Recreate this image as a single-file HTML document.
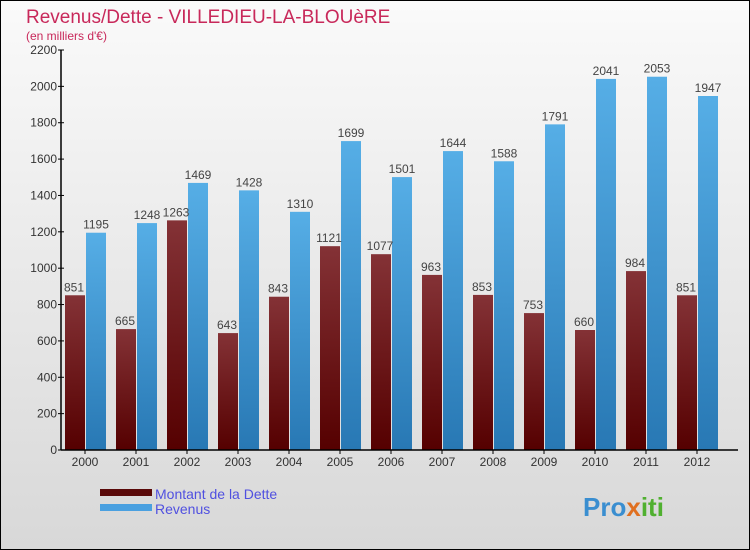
<!DOCTYPE html>
<html><head><meta charset="utf-8"><style>
body{margin:0;width:750px;height:550px;overflow:hidden;font-family:"Liberation Sans",sans-serif}
svg{display:block}
</style></head><body>
<svg id="c" width="750" height="550" xmlns="http://www.w3.org/2000/svg">
<defs>
<linearGradient id="bg" x1="0" y1="0" x2="0" y2="1"><stop offset="0" stop-color="#fafafa"/><stop offset="1" stop-color="#d8d8d8"/></linearGradient>
<linearGradient id="gd" x1="0" y1="0" x2="0" y2="1"><stop offset="0" stop-color="#843236"/><stop offset="1" stop-color="#550000"/></linearGradient>
<linearGradient id="gr" x1="0" y1="0" x2="0" y2="1"><stop offset="0" stop-color="#56aee6"/><stop offset="1" stop-color="#2878b4"/></linearGradient>
</defs>
<rect x="0.5" y="0.5" width="749" height="549" fill="url(#bg)" stroke="#000"/>
<text x="26" y="23" font-size="19" fill="#c8285a">Revenus/Dette - VILLEDIEU-LA-BLOUèRE</text>
<text x="26" y="40" font-size="12" fill="#c8285a">(en milliers d'€)</text>
<g id="grid"></g><g id="bars"></g><g id="axes"></g>
<rect x="100" y="489" width="52" height="7" fill="#5a0a0a"/>
<text x="155" y="499" font-size="14" fill="#5050e0">Montant de la Dette</text>
<rect x="100" y="504" width="52" height="7" fill="#4aa0e0"/>
<text x="155" y="514" font-size="14" fill="#5050e0">Revenus</text>
<text x="583" y="516" font-size="26" font-weight="bold" fill="#3a8ed0">Pro<tspan fill="#e07020">x</tspan><tspan fill="#50b030">iti</tspan></text>
</svg>
<script>
const years=["2000","2001","2002","2003","2004","2005","2006","2007","2008","2009","2010","2011","2012"];
const dette=[851,665,1263,643,843,1121,1077,963,853,753,660,984,851];
const revenus=[1195,1248,1469,1428,1310,1699,1501,1644,1588,1791,2041,2053,1947];
const yTicks=[0,200,400,600,800,1000,1200,1400,1600,1800,2000,2200];
const NS="http://www.w3.org/2000/svg";
const y0=450,yMax=2200,ph=400,x0=61,step=51;
const Y=v=>y0-v/yMax*ph;
const X=i=>x0+24+i*step;
function mk(t,a,p,txt){const e=document.createElementNS(NS,t);for(const k in a)e.setAttribute(k,a[k]);if(txt!==undefined)e.textContent=txt;p.appendChild(e);return e;}
const bars=document.getElementById('bars'),axes=document.getElementById('axes');
years.forEach((yr,i)=>{
 const cx=X(i);
 let r=mk('rect',{x:cx-20,y:Y(dette[i]),width:20,height:y0-Y(dette[i]),fill:'url(#gd)'},bars);
 
 
 let r2=mk('rect',{x:cx+1,y:Y(revenus[i]),width:20,height:y0-Y(revenus[i]),fill:'url(#gr)'},bars);
 
 
 let l1=mk('text',{x:cx-11,y:Y(dette[i])-4,'font-size':12,fill:'#444','text-anchor':'middle'},bars,String(dette[i]));
 
 
 let l2=mk('text',{x:cx+11,y:Y(revenus[i])-4,'font-size':12,fill:'#444','text-anchor':'middle'},bars,String(revenus[i]));
 
 
 let tk=mk('line',{x1:cx,x2:cx,y1:y0,y2:y0+4,stroke:'#000'},axes);
 
 
 let tl=mk('text',{x:cx,y:466,'font-size':12,fill:'#333','text-anchor':'middle'},axes,yr);
 
 
});
yTicks.forEach(v=>{
 let t=mk('line',{x1:x0-3,x2:x0+3,y1:Y(v),y2:Y(v),stroke:'#000'},axes);
 
 
 let tl=mk('text',{x:x0-4,y:Y(v)+4,'font-size':12,fill:'#333','text-anchor':'end'},axes,String(v));
 
 
});
let ya=mk('line',{x1:x0,x2:x0,y1:Y(yMax),y2:y0,stroke:'#000','stroke-width':1.5},axes);


let xa=mk('line',{x1:x0,x2:738,y1:y0,y2:y0,stroke:'#000','stroke-width':1.5},axes);


</script>
</body></html>
